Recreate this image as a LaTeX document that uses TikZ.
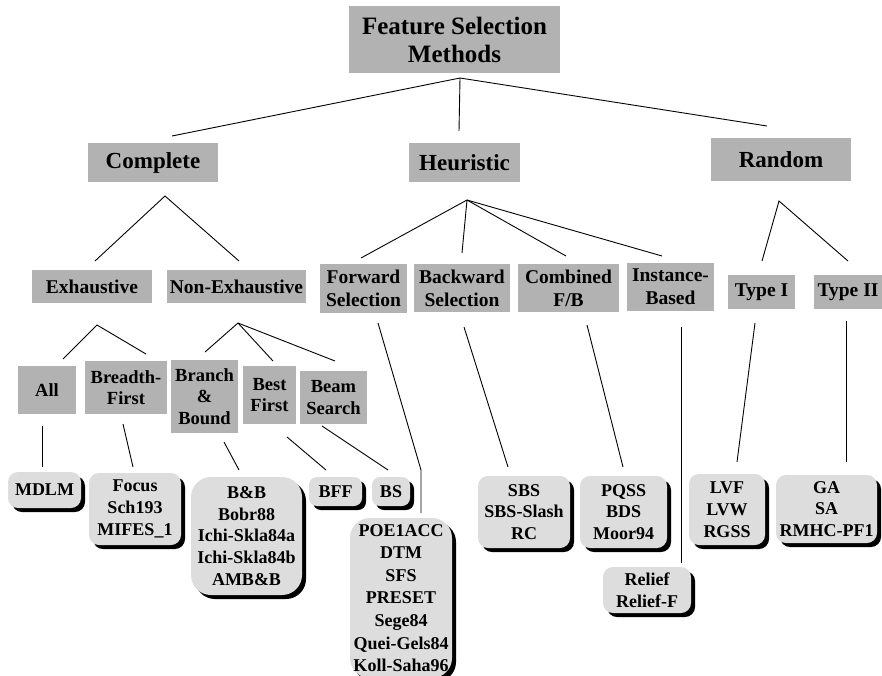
\documentclass[tikz,border=0pt]{standalone}
\usepackage{fontspec}
\setmainfont{Liberation Serif}
\usetikzlibrary{shadows}
\definecolor{boxgray}{RGB}{178,178,178}
\definecolor{leafgray}{RGB}{221,221,221}
\tikzset{
  sz/.style 2 args={minimum width=#1pt, minimum height=#2pt},
  cat/.style={fill=boxgray, inner sep=0pt, align=center},
  fA/.style={font={\fontsize{25}{28}\selectfont\bfseries}},
  fB/.style={font={\fontsize{23}{26}\selectfont\bfseries}},
  fC/.style={font={\fontsize{19.5}{23}\selectfont\bfseries}},
  fD/.style={font={\fontsize{18.5}{21.5}\selectfont\bfseries}},
  leaf/.style={fill=leafgray, inner sep=0pt, align=center, rounded corners=#1pt,
    general shadow={fill=black, shadow xshift=4pt, shadow yshift=-4pt},
    font={\fontsize{18}{21.7}\selectfont\bfseries}},
  leaf/.default=10,
  conn/.style={line width=0.9pt, black},
}
\begin{document}
\begin{tikzpicture}[x=1pt,y=-1pt]
\useasboundingbox (0,0) rectangle (882,675);
% ---- category boxes
\node[cat,fA,sz={211}{67}] (root) at (454.5,39.5) {Feature Selection\\Methods};
\node[cat,fB,sz={130}{39}] (comp) at (153,162.5) {Complete};
\node[cat,fB,sz={111}{39}] (heur) at (464.5,162.5) {Heuristic};
\node[cat,fB,sz={140}{43}] (rand) at (781,159.5) {Random};
\node[cat,fC,sz={120}{33}] (exh) at (92,286.5) {Exhaustive};
\node[cat,fC,sz={139}{33}] (nexh) at (236.5,286.5) {Non-Exhaustive};
\node[cat,fC,sz={87}{49}] (fwd) at (363.5,288.5) {Forward\\Selection};
\node[cat,fC,sz={96}{48}] (bwd) at (462,288) {Backward\\Selection};
\node[cat,fC,sz={101}{48}] (cmb) at (568.5,288) {Combined\\F/B};
\node[cat,fC,sz={87}{48}] (inst) at (670.5,287) {Instance-\\Based};
\node[cat,fC,sz={67}{34}] (t1) at (761.5,292) {Type I};
\node[cat,fC,sz={68}{34}] (t2) at (848,292) {Type II};
\node[cat,fD,sz={58}{48}] (all) at (47,390) {All};
\node[cat,fD,sz={82}{53}] (bf) at (126,387.5) {Breadth-\\First};
\node[cat,fD,sz={67}{73}] (bb) at (204.5,396.5) {Branch\\\&\\Bound};
\node[cat,fD,sz={53}{58}] (best) at (269.5,395) {Best\\First};
\node[cat,fD,sz={67}{53}] (beam) at (333.5,397.5) {Beam\\Search};
% ---- leaves
\node[leaf,sz={73}{36}] (mdlm) at (44.5,490) {MDLM};
\node[leaf,sz={92}{72}] (focus) at (135,509) {Focus\\Sch193\\MIFES\_1};
\node[leaf=20,sz={111}{118}] (bnb) at (246.5,536) {B\&B\\Bobr88\\Ichi-Skla84a\\Ichi-Skla84b\\AMB\&B};
\node[leaf=8,sz={53}{29}] (bff) at (335.5,491.5) {BFF};
\node[leaf=8,sz={38}{29}] (bs) at (391,491.5) {BS};
\node[leaf=20,sz={102}{160},font={\fontsize{18}{22.6}\selectfont\bfseries}] (poe) at (401,598) {POE1ACC\\DTM\\SFS\\PRESET\\Sege84\\Quei-Gels84\\Koll-Saha96};
\node[leaf,sz={92}{72}] (sbs) at (524,512) {SBS\\SBS-Slash\\RC};
\node[leaf,sz={87}{72}] (pqss) at (623.5,512) {PQSS\\BDS\\Moor94};
\node[leaf,sz={88}{46}] (rel) at (647,590) {Relief\\Relief-F};
\node[leaf,sz={76}{71}] (lvf) at (727,509.5) {LVF\\LVW\\RGSS};
\node[leaf,sz={101}{68}] (ga) at (826.5,509) {GA\\SA\\RMHC-PF1};
% ---- connector points
\coordinate (rootJ) at (460,78);
\coordinate (compT) at (172,136);
\coordinate (heurT) at (459,131);
\coordinate (randT) at (767,126);
\coordinate (compJ) at (165,196);
\coordinate (exhT) at (95,261);
\coordinate (nexhT) at (239,261);
\coordinate (heurJ) at (467,200);
\coordinate (fwdT) at (361,258);
\coordinate (bwdT) at (462,253);
\coordinate (cmbT) at (566,256);
\coordinate (instT) at (662,256);
\coordinate (randJ) at (779,201);
\coordinate (t1T) at (762,261);
\coordinate (t2T) at (848,261);
\coordinate (exhJ) at (97,325);
\coordinate (allT) at (63,359);
\coordinate (bfT) at (146,354);
\coordinate (nexhJ) at (238,323);
\coordinate (bbT) at (205,352);
\coordinate (bestT) at (273,361);
\coordinate (beamT) at (335,361);
\coordinate (allB) at (42,426);
\coordinate (mdlmT) at (42,467);
\coordinate (bfB) at (123,424);
\coordinate (focusT) at (133,467);
\coordinate (bbB) at (224,442);
\coordinate (bnbT) at (239,470);
\coordinate (bestB) at (287,437);
\coordinate (bffT) at (326,470);
\coordinate (beamB) at (322,426);
\coordinate (bsT) at (388,470);
\coordinate (fwdB) at (378,323);
\coordinate (fwdK) at (421,470);
\coordinate (poeT) at (421,513);
\coordinate (bwdB) at (464,327);
\coordinate (sbsT) at (508,467);
\coordinate (cmbB) at (587,325);
\coordinate (pqssT) at (623,467);
\coordinate (instB) at (681,327);
\coordinate (relT) at (681,563);
\coordinate (t1B) at (755,323);
\coordinate (lvfT) at (737,462);
\coordinate (t2B) at (846,321);
\coordinate (gaT) at (846,462);
% ---- connectors
\draw[conn] (compT) -- (rootJ) -- (randT);
\draw[conn] (rootJ) -- (heurT);
\draw[conn] (exhT) -- (compJ) -- (nexhT);
\draw[conn] (heurJ) -- (fwdT);
\draw[conn] (heurJ) -- (bwdT);
\draw[conn] (heurJ) -- (cmbT);
\draw[conn] (heurJ) -- (instT);
\draw[conn] (t1T) -- (randJ) -- (t2T);
\draw[conn] (allT) -- (exhJ) -- (bfT);
\draw[conn] (nexhJ) -- (bbT);
\draw[conn] (nexhJ) -- (bestT);
\draw[conn] (nexhJ) -- (beamT);
\draw[conn] (allB) -- (mdlmT);
\draw[conn] (bfB) -- (focusT);
\draw[conn] (bbB) -- (bnbT);
\draw[conn] (bestB) -- (bffT);
\draw[conn] (beamB) -- (bsT);
\draw[conn] (fwdB) -- (fwdK) -- (poeT);
\draw[conn] (bwdB) -- (sbsT);
\draw[conn] (cmbB) -- (pqssT);
\draw[conn] (instB) -- (relT);
\draw[conn] (t1B) -- (lvfT);
\draw[conn] (t2B) -- (gaT);
\end{tikzpicture}
\end{document}
